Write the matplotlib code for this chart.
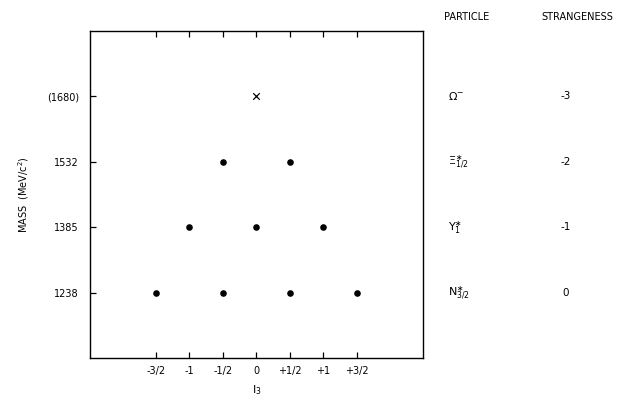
import numpy as np
import matplotlib.pyplot as plt

# decuplet data: isospin projection I3 and mass (MeV/c^2)
masses = [1238, 1385, 1532, 1680]
mass_labels = ['1238', '1385', '1532', '(1680)']
i3_ticks = [-1.5, -1, -0.5, 0, 0.5, 1, 1.5]
i3_labels = ['-3/2', '-1', '-1/2', '0', '+1/2', '+1', '+3/2']

dots_i3 = [-1.5, -0.5, 0.5, 1.5, -1, 0, 1, -0.5, 0.5]
dots_mass = [1238, 1238, 1238, 1238, 1385, 1385, 1385, 1532, 1532]
omega_i3 = [0]
omega_mass = [1680]

particles = [r'$\mathrm{N}^{\ast}_{3/2}$', r'$\mathrm{Y}^{\ast}_{1}$',
             r'$\Xi^{\ast}_{1/2}$', r'$\Omega^{-}$']
strangeness = ['0', '-1', '-2', '-3']

fs = 7
plt.rcParams['font.family'] = 'DejaVu Sans'
plt.rcParams['mathtext.fontset'] = 'dejavusans'

fig = plt.figure(figsize=(6.19, 4.03), dpi=100)
ax = fig.add_axes([0.1454, 0.1117, 0.538, 0.811])

ax.scatter(dots_i3, dots_mass, s=14, color='black', zorder=3)
ax.scatter(omega_i3, omega_mass, s=22, marker='x', color='black', linewidths=0.9, zorder=3)

ax.set_xlim(-2.48, 2.49)
ax.set_ylim(1091, 1827)
ax.set_xticks(i3_ticks)
ax.set_xticklabels(i3_labels, fontsize=fs)
ax.set_yticks(masses)
ax.set_yticklabels(mass_labels, fontsize=fs)
ax.tick_params(direction='in', length=4, width=0.9, top=True, pad=6)
ax.tick_params(axis='y', pad=8)
for s in ax.spines.values():
    s.set_linewidth(1.0)

ax.set_xlabel(r'$\mathrm{I}_3$', fontsize=fs + 1, labelpad=5)
ax.set_ylabel(r'MASS  (MeV/c$^2$)', fontsize=fs, labelpad=11)

# particle / strangeness columns at the right
fig.text(467 / 619, 1 - 17 / 403, 'PARTICLE', fontsize=fs, ha='center', va='center')
fig.text(577 / 619, 1 - 17 / 403, 'STRANGENESS', fontsize=fs, ha='center', va='center')
for p, st, m in zip(particles, strangeness, masses):
    ax.annotate(p, xy=(1.0, m), xycoords=('axes fraction', 'data'),
                xytext=(18, 0), textcoords='offset points',
                fontsize=fs + 1, ha='left', va='center')
    ax.annotate(st, xy=(1.0, m), xycoords=('axes fraction', 'data'),
                xytext=(103, 0), textcoords='offset points',
                fontsize=fs + 0.5, ha='center', va='center')

fig.savefig('out.png', dpi=100)
